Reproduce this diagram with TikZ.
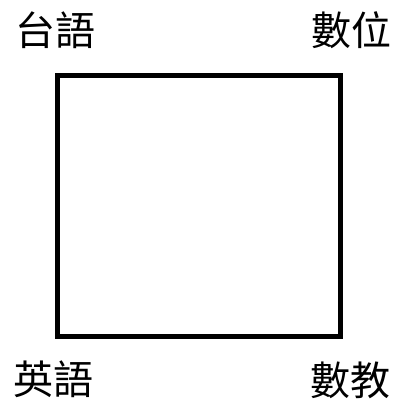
\documentclass[tikz,border=0pt]{standalone}
\usepackage{fontspec}
\newfontfamily\cjk{Noto Sans CJK TC}
\tikzset{
  lbl/.style={inner sep=0pt, anchor=base, font=\cjk\fontsize{40}{48}\selectfont},
  sq/.style={draw=black, line width=5pt, line join=miter}
}
\begin{document}
\begin{tikzpicture}[x=1pt,y=-1pt]
\useasboundingbox (0,0) rectangle (402,405);
\coordinate (tl) at (57.5,75.5);
\coordinate (br) at (340.5,336.5);
\draw[sq] (tl) rectangle (br);
\node[lbl] (a) at (56,45) {台語};
\node[lbl] (b) at (351,45) {數位};
\node[lbl] (c) at (53,394) {英語};
\node[lbl] (d) at (350,395) {數教};
\end{tikzpicture}
\end{document}
